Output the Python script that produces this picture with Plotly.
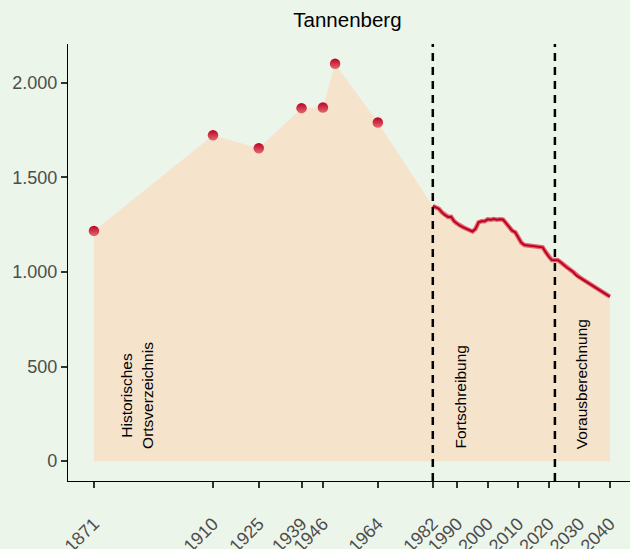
import plotly.graph_objects as go

# Historical census points (Historisches Ortsverzeichnis)
hist_years = [1871, 1910, 1925, 1939, 1946, 1950, 1964]
hist_values = [1217, 1723, 1654, 1866, 1869, 2101, 1790]

# Annual series: Fortschreibung (1982-2022) and Vorausberechnung (2022-2040)
annual_years = list(range(1982, 2041))
annual_values = [1349, 1340, 1334, 1315, 1300, 1291, 1292, 1268, 1255, 1243,
                 1236, 1228, 1220, 1214, 1228, 1262, 1268, 1268, 1278, 1276,
                 1280, 1276, 1279, 1277, 1258, 1235, 1218, 1210, 1180, 1155,
                 1142, 1140, 1136, 1134, 1133, 1134, 1130, 1105, 1080, 1063,
                 1063, 1062, 1050, 1035, 1022, 1012, 1000, 982, 972, 962,
                 952, 943, 932, 922, 912, 902, 892, 880, 870]

tick_years = [1871, 1910, 1925, 1939, 1946, 1964, 1982, 1990, 2000, 2010, 2020, 2030, 2040]
y_ticks = [0, 500, 1000, 1500, 2000]
y_tick_labels = ["0", "500", "1.000", "1.500", "2.000"]
phase_lines = [1982, 2022]
phase_labels = [("Historisches<br>Ortsverzeichnis", 1885), ("Fortschreibung", 1991), ("Vorausberechnung", 2030.7)]

BG = "#ECF5EA"
AREA = "#F5E3CC"
DARK = "#BE0021"
PINK = "#E06A72"

fig = go.Figure()

fig.add_trace(go.Scatter(
    x=hist_years + annual_years, y=hist_values + annual_values,
    mode="lines", fill="tozeroy", fillcolor=AREA,
    line=dict(width=0, color=AREA), hoverinfo="skip", showlegend=False))

fig.add_trace(go.Scatter(
    x=annual_years, y=annual_values, mode="lines",
    line=dict(color=PINK, width=4.5), showlegend=False))
fig.add_trace(go.Scatter(
    x=annual_years, y=annual_values, mode="lines",
    line=dict(color=DARK, width=2), showlegend=False))

fig.add_trace(go.Scatter(
    x=hist_years, y=hist_values, mode="markers",
    marker=dict(size=10.5, color=DARK, line=dict(width=0),
                gradient=dict(type="vertical", color=PINK)),
    showlegend=False))

for yr in phase_lines:
    fig.add_shape(type="line", x0=yr, x1=yr, xref="x", yref="paper", y0=0, y1=1,
                  line=dict(color="black", width=2.5, dash="8px,6px"))

for txt, xx in phase_labels:
    fig.add_annotation(x=xx, y=55, xref="x", yref="y", text=txt, showarrow=False,
                       textangle=-90, xanchor="center", yanchor="bottom",
                       font=dict(family="Liberation Sans, Arial, sans-serif", size=15.5, color="black"))

fig.update_layout(
    width=630, height=549,
    margin=dict(l=68, r=0, t=44, b=68),
    paper_bgcolor=BG, plot_bgcolor=BG,
    font=dict(family="Liberation Sans, Arial, sans-serif"),
    title=dict(text="Tannenberg", x=0.5515, xanchor="center", y=0.963, yanchor="middle",
               font=dict(size=20.5, color="black")),
    xaxis=dict(range=[1862.5, 2046.6], tickvals=tick_years, ticktext=[str(t) for t in tick_years],
               tickangle=-45, showgrid=False, zeroline=False, showline=True, linecolor="black",
               linewidth=1.2, ticks="outside", ticklen=6, tickwidth=2, tickcolor="#333333",
               tickfont=dict(size=18, color="#4D4D4D"), ticklabelstandoff=18, automargin=False),
    yaxis=dict(range=[-105, 2205], tickvals=y_ticks, ticktext=y_tick_labels,
               showgrid=False, zeroline=False, showline=True, linecolor="black",
               linewidth=1.2, ticks="outside", ticklen=6, tickwidth=2, tickcolor="#333333",
               tickfont=dict(size=18, color="#4D4D4D"), automargin=False),
)

fig.write_html("out.html", config={"displayModeBar": False},
               post_script="document.body.style.margin='0';document.body.style.overflow='hidden';")
